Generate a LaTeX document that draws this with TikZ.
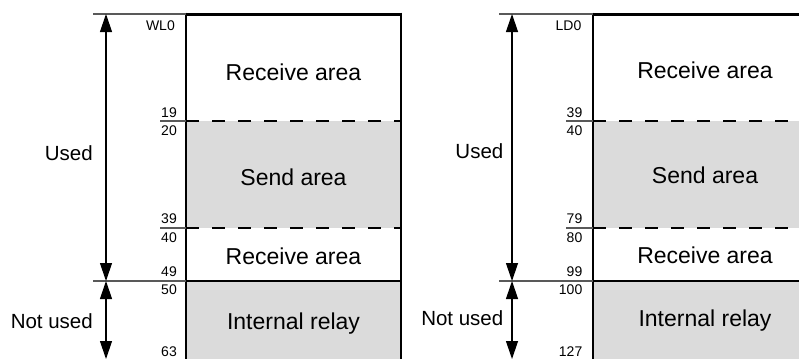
\documentclass[tikz,border=0pt]{standalone}
\usepackage{fontspec}
\setmainfont{Liberation Sans}
\usetikzlibrary{arrows.meta}
\begin{document}
\begin{tikzpicture}[x=1pt,y=-1pt,
  boxline/.style={line width=2.4pt,black},
  topline/.style={line width=3pt,black},
  divline/.style={line width=2.6pt,black,dash pattern=on 13pt off 13pt},
  extline/.style={line width=1.3pt,black!65},
  dimarrow/.style={line width=1.2pt,black,{Triangle[width=12pt,length=18pt]}-{Triangle[width=12pt,length=18pt]}},
  num/.style={anchor=east,inner sep=0pt,text height=10pt,text depth=0pt,font=\fontsize{14}{14}\selectfont},
  area/.style={inner sep=0pt,text height=16.5pt,text depth=0pt,font=\fontsize{23}{23}\selectfont},
  side/.style={anchor=east,inner sep=0pt,text height=14.7pt,text depth=0pt,font=\fontsize{20.5}{20.5}\selectfont},
  fillarea/.style={fill=black!14,draw=none}]
\useasboundingbox (0,0) rectangle (799,359);

% ---------- left panel ----------
\fill[fillarea] (186,121) rectangle (401,228);
\fill[fillarea] (186,281) rectangle (401,359);
\draw[divline] (186,121) -- (401,121);
\draw[divline] (186,228) -- (401,228);
\draw[boxline] (186,281) -- (401,281);
\draw[topline] (186,14) -- (401,14);
\draw[boxline] (186,12.5) -- (186,359);
\draw[boxline] (401,12.5) -- (401,359);
\draw[extline] (93,14) -- (186,14);
\draw[extline] (93,281) -- (186,281);
\draw[extline] (160,121) -- (186,121);
\draw[extline] (160,228) -- (186,228);
\coordinate (Ltop) at (106,14);
\coordinate (Lmid) at (106,281);
\coordinate (Lbot) at (106,359);
\draw[dimarrow] (Ltop) -- (Lmid);
\draw[dimarrow] (Lmid) -- (Lbot);

\node[num] (wl0) at (175,25) {WL0};
\node[num] (l19) at (177,112) {19};
\node[num] (l20) at (177,130) {20};
\node[num] (l39) at (177,218) {39};
\node[num] (l40) at (177,237) {40};
\node[num] (l49) at (177,271) {49};
\node[num] (l50) at (177,289) {50};
\node[num] (l63) at (177,351.5) {63};
\node[side] (lused) at (93,153) {Used};
\node[side] (lnot) at (93,321.5) {Not used};
\node[area] (lrec1) at (293.5,72.5) {Receive area};
\node[area] (lsend) at (293.5,177) {Send area};
\node[area] (lrec2) at (293.5,256.5) {Receive area};
\node[area] (lint) at (293.5,321.5) {Internal relay};

% ---------- right panel ----------
\fill[fillarea] (593,121) rectangle (799,228);
\fill[fillarea] (593,281) rectangle (799,359);
\draw[divline] (593,121) -- (799,121);
\draw[divline] (593,228) -- (799,228);
\draw[boxline] (593,281) -- (799,281);
\draw[topline] (593,14) -- (799,14);
\draw[boxline] (593,12.5) -- (593,359);
\draw[extline] (499,14) -- (593,14);
\draw[extline] (499,281) -- (593,281);
\draw[extline] (566,121) -- (593,121);
\draw[extline] (566,228) -- (593,228);
\coordinate (Rtop) at (512,14);
\coordinate (Rmid) at (512,281);
\coordinate (Rbot) at (512,359);
\draw[dimarrow] (Rtop) -- (Rmid);
\draw[dimarrow] (Rmid) -- (Rbot);

\node[num] (ld0) at (581.5,25) {LD0};
\node[num] (r39) at (582.5,112) {39};
\node[num] (r40) at (582.5,130) {40};
\node[num] (r79) at (582.5,218) {79};
\node[num] (r80) at (582.5,237) {80};
\node[num] (r99) at (582.5,271) {99};
\node[num] (r100) at (582.5,289) {100};
\node[num] (r127) at (582.5,351.5) {127};
\node[side] (rused) at (503.5,151.5) {Used};
\node[side] (rnot) at (503.5,318.5) {Not used};
\node[area] (rrec1) at (705,70.5) {Receive area};
\node[area] (rsend) at (705,175.5) {Send area};
\node[area] (rrec2) at (705,255) {Receive area};
\node[area] (rint) at (705,318.5) {Internal relay};
\end{tikzpicture}
\end{document}
